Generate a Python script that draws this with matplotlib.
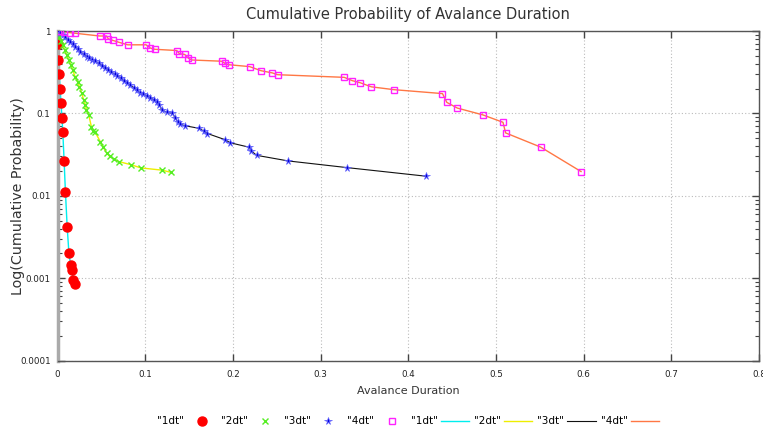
import matplotlib
matplotlib.use("Agg")
import matplotlib.pyplot as plt
from matplotlib.ticker import FixedLocator, LogLocator, NullFormatter

# avalanche duration vs. cumulative probability
dur1 = [0.0003, 0.001, 0.002, 0.003, 0.004, 0.005, 0.006, 0.0075, 0.009,
        0.011, 0.013, 0.0150, 0.0165, 0.018, 0.020]
prob1 = [0.69, 0.45, 0.30, 0.196, 0.134, 0.089, 0.060, 0.0265, 0.0112,
         0.0042, 0.0020, 0.00144, 0.00126, 0.00095, 0.00085]

dur2 = [0.0002, 0.002, 0.004, 0.006, 0.008, 0.0105, 0.0128, 0.015, 0.0173,
        0.020, 0.023, 0.025, 0.0276, 0.030, 0.0317, 0.033, 0.0356, 0.0386,
        0.041, 0.043, 0.049, 0.052, 0.056, 0.0595, 0.064, 0.070, 0.084,
        0.095, 0.119, 0.129]
prob2 = [0.98, 0.85, 0.76, 0.68, 0.59, 0.51, 0.445, 0.39, 0.336, 0.28, 0.24,
         0.21, 0.175, 0.145, 0.127, 0.110, 0.096, 0.069, 0.061, 0.059, 0.045,
         0.039, 0.033, 0.030, 0.028, 0.026, 0.0238, 0.0218, 0.0205, 0.0193]

dur3 = [0.0002, 0.003, 0.006, 0.009, 0.012, 0.0146, 0.0177, 0.020, 0.023,
        0.026, 0.030, 0.034, 0.036, 0.039, 0.043, 0.047, 0.051, 0.054, 0.058,
        0.061, 0.065, 0.068, 0.072, 0.0755, 0.079, 0.083, 0.087, 0.091,
        0.094, 0.098, 0.102, 0.106, 0.110, 0.1135, 0.116, 0.119, 0.125,
        0.131, 0.134, 0.137, 0.140, 0.145, 0.161, 0.167, 0.171, 0.191, 0.197,
        0.218, 0.221, 0.227, 0.263, 0.330, 0.420]
prob3 = [1.0, 0.94, 0.89, 0.84, 0.78, 0.73, 0.69, 0.645, 0.60, 0.56, 0.52,
         0.49, 0.47, 0.45, 0.43, 0.405, 0.38, 0.36, 0.34, 0.32, 0.30, 0.285,
         0.27, 0.25, 0.236, 0.22, 0.205, 0.19, 0.178, 0.17, 0.163, 0.155,
         0.145, 0.136, 0.127, 0.110, 0.103, 0.100, 0.089, 0.079, 0.074, 0.071,
         0.066, 0.061, 0.057, 0.048, 0.044, 0.039, 0.035, 0.031, 0.0265,
         0.0220, 0.0173]

dur4 = [0.0025, 0.0078, 0.0146, 0.020, 0.048, 0.056, 0.058, 0.063, 0.070,
        0.080, 0.101, 0.106, 0.111, 0.136, 0.139, 0.145, 0.149, 0.153, 0.187,
        0.191, 0.195, 0.219, 0.232, 0.245, 0.251, 0.327, 0.336, 0.345, 0.358,
        0.384, 0.439, 0.444, 0.456, 0.485, 0.508, 0.511, 0.551, 0.597]
prob4 = [1.0, 0.98, 0.953, 0.94, 0.87, 0.87, 0.80, 0.77, 0.73, 0.68, 0.68,
         0.62, 0.60, 0.58, 0.53, 0.52, 0.47, 0.445, 0.43, 0.405, 0.39, 0.37,
         0.33, 0.31, 0.295, 0.274, 0.25, 0.236, 0.21, 0.194, 0.174, 0.136,
         0.116, 0.096, 0.078, 0.058, 0.039, 0.0197]

# the 1dt line starts from the top-left corner
dur1_line = [0.0] + dur1
prob1_line = [1.0] + prob1

labels = ['"1dt"', '"2dt"', '"3dt"', '"4dt"']
xticks = [0, 0.1, 0.2, 0.3, 0.4, 0.5, 0.6, 0.7, 0.8]
xtick_labels = ["0", "0.1", "0.2", "0.3", "0.4", "0.5", "0.6", "0.7", "0.8"]
yticks = [0.0001, 0.001, 0.01, 0.1, 1]
ytick_labels = ["0.0001", "0.001", "0.01", "0.1", "1"]

plt.rcParams["font.family"] = ["DejaVu Sans"]

fig = plt.figure(figsize=(7.63, 4.32), dpi=100)
ax = fig.add_axes([0.0754, 0.1653, 0.9194, 0.7629])

# points first, then lines (same order as the legend)
ax.plot(dur1, prob1, "o", color="#ff0000", ms=6.5, label=labels[0], zorder=3)
ax.plot(dur2, prob2, "x", color="#55ee22", ms=4, mew=1, label=labels[1], zorder=3)
ax.plot(dur3, prob3, "*", color="#0000dd", ms=5.5, mew=0.5, mec="#6666ff",
        label=labels[2], zorder=3)
ax.plot(dur4, prob4, "s", mfc="none", mec="#ff22ff", ms=3.8, mew=1,
        label=labels[3], zorder=3)
ax.plot(dur1_line, prob1_line, "-", color="#00eeee", lw=1, label=labels[0])
ax.plot(dur2, prob2, "-", color="#eeee00", lw=1, label=labels[1])
ax.plot(dur3, prob3, "-", color="#111111", lw=0.8, label=labels[2])
ax.plot(dur4, prob4, "-", color="#ff7744", lw=1, label=labels[3])

ax.set_yscale("log")
ax.set_xlim(0, 0.8)
ax.set_ylim(0.0001, 1)
ax.xaxis.set_major_locator(FixedLocator(xticks))
ax.set_xticklabels(xtick_labels)
ax.yaxis.set_major_locator(FixedLocator(yticks))
ax.set_yticklabels(ytick_labels)
ax.yaxis.set_minor_locator(LogLocator(base=10, subs=range(2, 10)))
ax.yaxis.set_minor_formatter(NullFormatter())

ax.tick_params(which="both", direction="in", labelsize=6.3, top=True,
               right=True, color="#444444", labelcolor="#222222")
ax.tick_params(which="major", length=5, width=1)
ax.tick_params(which="minor", length=3, width=0.8)
ax.tick_params(axis="x", pad=7)
ax.tick_params(axis="y", pad=5)

for side in ["top", "bottom", "right"]:
    ax.spines[side].set_color("#555555")
    ax.spines[side].set_linewidth(1)
ax.spines["left"].set_color("#aaaaaa")
ax.spines["left"].set_linewidth(2.5)

ax.grid(True, which="major", linestyle=(0, (1, 2)), color="#bbbbbb", lw=0.8)

ax.set_title("Cumulative Probability of Avalance Duration", fontsize=10.5,
             color="#333333", pad=9)
ax.set_xlabel("Avalance Duration", fontsize=8, color="#333333", labelpad=5)
ax.set_ylabel("Log(Cumulative Probability)", fontsize=10.3,
              color="#333333")
ax.yaxis.set_label_coords(-0.047, 0.5)

fig.legend(loc="center", bbox_to_anchor=(0.535, 0.025), ncol=8, frameon=False,
           markerfirst=False, fontsize=7.5, handlelength=2.7,
           columnspacing=0.5, handletextpad=0.3)

fig.savefig("out.png", dpi=100)
